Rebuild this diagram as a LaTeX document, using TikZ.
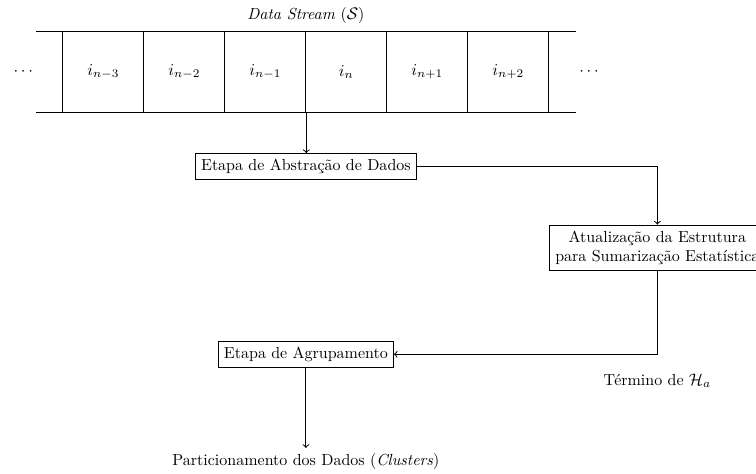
\documentclass[tikz,border=0pt]{standalone}
\usepackage{fontspec}
\usepackage{tikz}
\usetikzlibrary{positioning}

\begin{document}
\begin{tikzpicture}[semithick,
  every node/.style={font=\fontsize{9.6pt}{11.5pt}\selectfont},
  cell/.style={draw,minimum width=1.708cm,minimum height=1.71cm,inner sep=0pt},
  etapa/.style={draw,rectangle,align=center}]
  \useasboundingbox (0,0) rectangle (15.94,9.98);
  % fluxo de dados
  \draw (0.76,9.32) -- (12.15,9.32);
  \draw (0.76,7.61) -- (12.15,7.61);
  \foreach \lbl [count=\k] in {n-3,n-2,n-1,n,n+1,n+2}
    \node[cell] (c\k) at ({0.47+1.708*\k},8.465) {$i_{\lbl}$};
  \node (dl) at (0.49,8.465) {$\cdots$};
  \node (dr) at (12.42,8.465) {$\cdots$};
  \node (ds) at (6.45,9.66) {\textit{Data Stream} ($\mathcal{S}$)};

  % etapas
  \node[etapa] (abs) at (6.45,6.47) {Etapa de Abstração de Dados};
  \node[etapa] (stat) at (13.86,4.76) {Atualização da Estrutura\\para Sumarização Estatística};
  \node[etapa] (agr) at (6.45,2.51) {Etapa de Agrupamento};
  \node (part) at (6.45,0.24) {Particionamento dos Dados (\textit{Clusters})};

  \draw[->] (c3.south east) -- (c3.south east |- abs.north);
  \draw[->] (abs.east) -| (stat.north);
  \draw[->] (stat.south) |- node[below=0.28cm] (fim) {Término de $\mathcal{H}_a$} (agr.east);
  \draw[->] (agr) -- (part);
\end{tikzpicture}
\end{document}
